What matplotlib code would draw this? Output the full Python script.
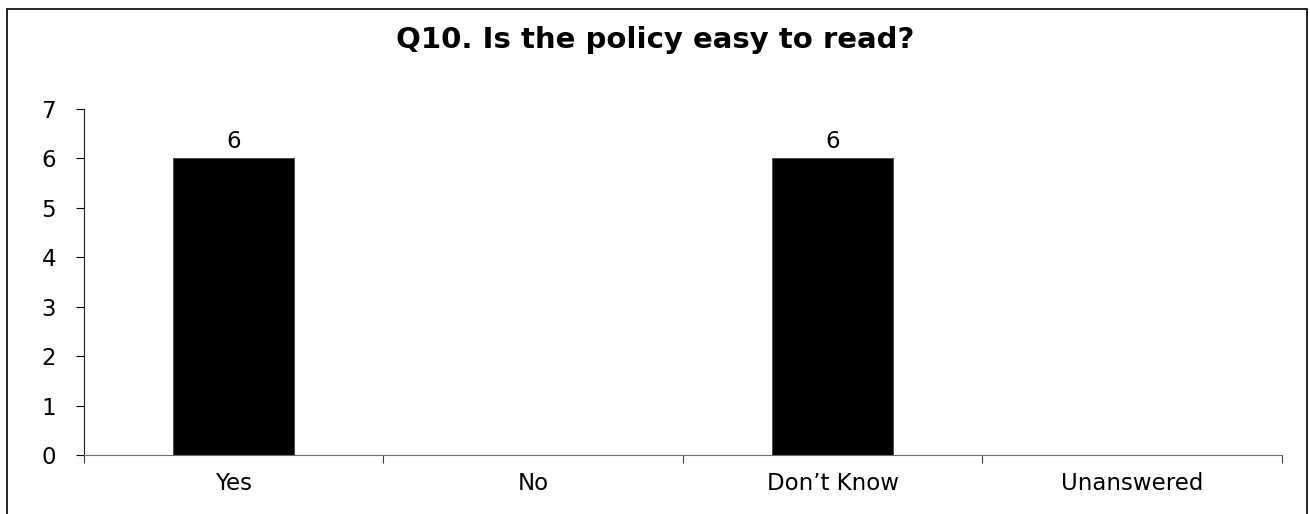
from matplotlib import pyplot as plt
from matplotlib.patches import Rectangle
import numpy as np

# Data
categories = ['Yes', 'No', 'Don\u2019t Know', 'Unanswered']
counts = [6, 0, 6, 0]
yticks = [0, 1, 2, 3, 4, 5, 6, 7]
title = 'Q10. Is the policy easy to read?'

plt.rcParams['font.family'] = ['Verdana', 'DejaVu Sans']

fig = plt.figure(figsize=(13.1, 5.14), dpi=100)
ax = fig.add_axes([0.0641, 0.1148, 0.9145, 0.6731])

x = np.arange(len(categories))
ax.bar(x, counts, width=0.405, color='black', edgecolor='#404040', linewidth=0.6)
for xi, v in zip(x, counts):
    if v > 0:
        ax.text(xi, v + 0.12, str(v), ha='center', va='bottom', fontsize=16.5)

ax.set_xlim(-0.5, len(categories) - 0.5)
ax.set_ylim(0, 7)
ax.set_yticks(yticks)
ax.tick_params(axis='y', direction='out', length=6, width=0.8, labelsize=16.5, pad=14)

# labels at the centres, tick marks at the category boundaries
ax.set_xticks(x)
ax.set_xticklabels(categories)
ax.set_xticks(np.arange(len(categories) + 1) - 0.5, minor=True)
ax.tick_params(axis='x', which='major', length=0, labelsize=16.5, pad=12)
ax.tick_params(axis='x', which='minor', direction='out', length=6, width=0.8, color='#404040')

ax.spines['right'].set_visible(False)
ax.spines['top'].set_visible(False)
ax.spines['bottom'].set_color('#6e6e6e')
ax.spines['left'].set_color('#202020')

fig.text(0.5, 0.922, title, ha='center', va='center', fontsize=21, fontweight='bold')

# outer frame
fig.patches.append(Rectangle((0.0053, -0.01), 0.9924, 0.9925, transform=fig.transFigure,
                             fill=False, edgecolor='black', linewidth=1.2))

fig.savefig('out.png', dpi=100)
